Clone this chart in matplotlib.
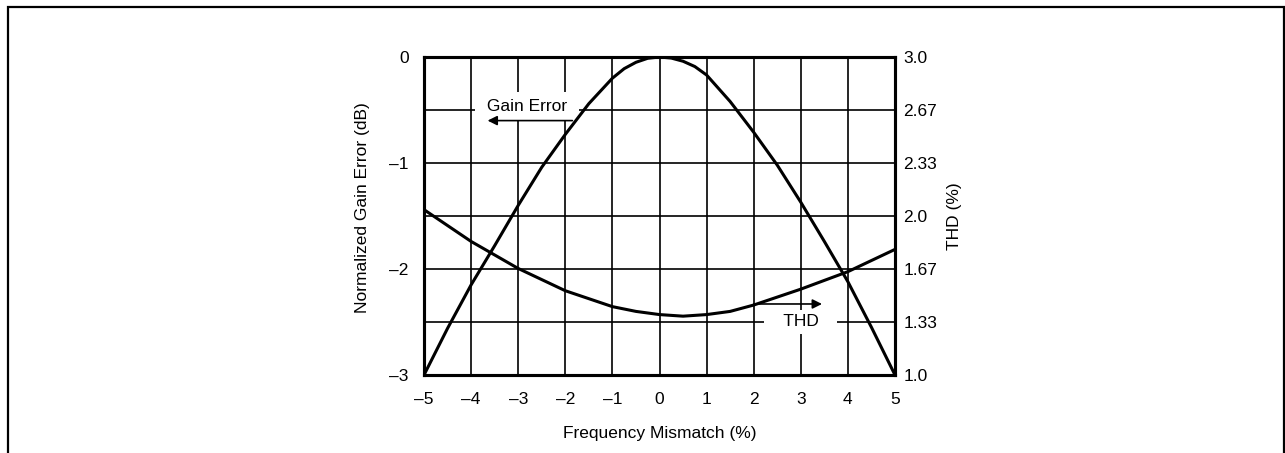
import numpy as np
import matplotlib.pyplot as plt
from matplotlib.patches import Rectangle

plt.rcParams['font.family'] = ['Liberation Sans', 'DejaVu Sans']

# values
mismatch = [-5, -4.5, -4, -3.5, -3, -2.5, -2, -1.5, -1, -0.75, -0.5, -0.25, 0,
            0.25, 0.5, 0.75, 1, 1.5, 2, 2.5, 3, 3.5, 4, 4.5, 5]
gain_err = [-3.0, -2.56, -2.15, -1.78, -1.40, -1.04, -0.73, -0.44, -0.20, -0.11, -0.05, -0.012, 0.0,
            -0.01, -0.04, -0.09, -0.17, -0.42, -0.71, -1.02, -1.37, -1.74, -2.12, -2.55, -3.0]
thd_x = [-5, -4, -3, -2, -1, -0.5, 0, 0.5, 1, 1.5, 2, 3, 4, 5]
thd = [2.04, 1.84, 1.67, 1.53, 1.43, 1.40, 1.38, 1.37, 1.38, 1.40, 1.44, 1.54, 1.65, 1.79]

x_ticks = [-5, -4, -3, -2, -1, 0, 1, 2, 3, 4, 5]
x_labels = ['–5', '–4', '–3', '–2', '–1', '0', '1', '2', '3', '4', '5']
left_ticks = [-3, -2, -1, 0]
left_labels = ['–3', '–2', '–1', '0']
right_ticks = [1.0, 4/3, 5/3, 2.0, 7/3, 8/3, 3.0]
right_labels = ['1.0', '1.33', '1.67', '2.0', '2.33', '2.67', '3.0']

fs = 12.5

fig = plt.figure(figsize=(12.85, 4.53), dpi=100)
ax = fig.add_axes([424/1285, 1 - 375/453, 471/1285, 318/453])
ax2 = ax.twinx()

# outer frame (bottom edge runs off the picture)
fig.patches.append(Rectangle((7.5/1285, -0.1), (1284 - 7.5)/1285, 1.1 - 7.5/453,
                             transform=fig.transFigure, fill=False,
                             edgecolor='black', linewidth=1.6))

ax.set_xlim(-5, 5)
ax.set_ylim(-3, 0)
ax2.set_ylim(1, 3)

for g in np.arange(-4, 5, 1):
    ax.axvline(g, color='black', linewidth=1.2, zorder=1)
for g in np.arange(-2.5, 0, 0.5):
    ax.axhline(g, color='black', linewidth=1.2, zorder=1)

ax.plot(mismatch, gain_err, color='black', linewidth=2.2, zorder=4)
ax2.plot(thd_x, thd, color='black', linewidth=2.2, zorder=4)

ax.set_xticks(x_ticks, x_labels)
ax.set_yticks(left_ticks, left_labels)
ax2.set_yticks(right_ticks, right_labels)
for a in (ax, ax2):
    a.tick_params(length=0, labelsize=fs)
    for s in a.spines.values():
        s.set_linewidth(2.2)
ax.tick_params(axis='x', pad=12)
ax.tick_params(axis='y', pad=11)
ax2.tick_params(axis='y', pad=6)

ax.set_xlabel('Frequency Mismatch (%)', fontsize=fs, labelpad=14)
ax.set_ylabel('Normalized Gain Error (dB)', fontsize=fs, labelpad=9)
ax.yaxis.set_label_coords(-0.115, 0.525)
ax2.set_ylabel('THD (%)', fontsize=fs, labelpad=7)

# curve labels with white boxes breaking the grid
ax.text(-2.82, -0.47, ' Gain Error ', fontsize=fs, ha='center', va='center', zorder=3,
        bbox=dict(facecolor='white', edgecolor='none', pad=5))
ax.annotate('', xy=(-3.65, -0.6), xytext=(-1.85, -0.6), zorder=5,
            arrowprops=dict(arrowstyle='-|>', color='black', lw=1.2,
                            mutation_scale=14, shrinkA=0, shrinkB=0))
ax.text(3.0, -2.5, '   THD   ', fontsize=fs, ha='center', va='center', zorder=3,
        bbox=dict(facecolor='white', edgecolor='none', pad=3))
ax.annotate('', xy=(3.45, -2.33), xytext=(2.0, -2.33), zorder=5,
            arrowprops=dict(arrowstyle='-|>', color='black', lw=1.2,
                            mutation_scale=14, shrinkA=0, shrinkB=0))

ax.set_zorder(ax2.get_zorder() + 1)
ax.patch.set_visible(False)

fig.savefig('out.png', dpi=100)
